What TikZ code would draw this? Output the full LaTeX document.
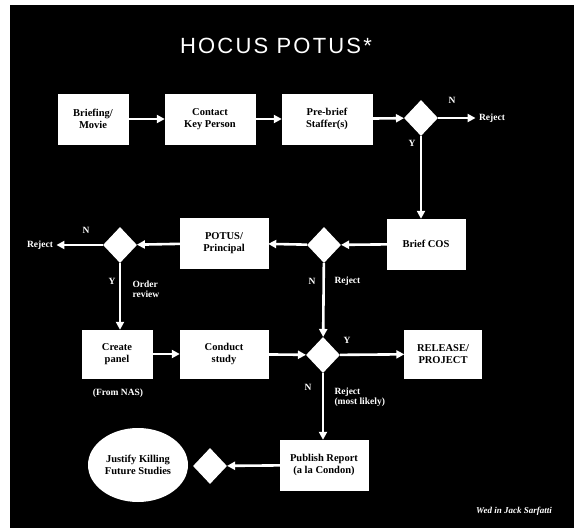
\documentclass[tikz,border=0pt]{standalone}
\usepackage{fontspec}
\setmainfont{Liberation Serif}
\newfontfamily\titlefont[LetterSpace=10]{Liberation Sans}
\usetikzlibrary{shapes.geometric,arrows.meta}

\begin{document}
\begin{tikzpicture}[x=1pt, y=-1pt, font=\bfseries\fontsize{10.5}{11.5}\selectfont,
	stepbox/.style={draw=white, fill=white, text=black, align=center, minimum height=50, inner sep=2pt},
	choice/.style={diamond, fill=white, minimum width=34, minimum height=36, inner sep=0pt},
	flow/.style={draw=white, line width=2.6pt, -{Triangle[length=8pt,width=8pt]}},
	note/.style={text=white, font=\bfseries\fontsize{9.5}{10.5}\selectfont, align=left}]
	\useasboundingbox (0,0) rectangle (574,528);
	\fill[white] (0,0) rectangle (574,528);
	\fill[black] (10,5) rectangle (574,528);

	\node[text=white, font=\titlefont\fontsize{22}{24}\selectfont] (title) at (276,46) {HOCUS POTUS*};

	% first row
	\node[stepbox, minimum width=70] (brief)    at (93,119)  {Briefing/\\Movie};
	\node[stepbox, minimum width=90] (contact)  at (210,119) {Contact\\Key Person};
	\node[stepbox, minimum width=90] (prebrief) at (327,119) {Pre-brief\\Staffer(s)};
	\node[choice] (d1) at (421,118) {};
	\node[note] (rej1) at (492,118) {Reject};

	% second row
	\node[stepbox, minimum width=78] (cos)   at (426,244) {Brief COS};
	\node[choice] (d2) at (324,245) {};
	\node[stepbox, minimum width=88] (potus) at (224,243) {POTUS/\\Principal};
	\node[choice] (d3) at (120,245) {};
	\node[note] (rej2) at (40,245) {Reject};

	% third row
	\node[stepbox, minimum width=70, minimum height=48] (panel)   at (117,354) {Create\\panel};
	\node[stepbox, minimum width=88, minimum height=48] (study)   at (224,354) {Conduct\\study};
	\node[choice] (d4) at (323,355) {};
	\node[stepbox, minimum width=77, minimum height=48] (release) at (443,354) {RELEASE/\\PROJECT};

	% last row
	\node[stepbox, minimum width=88] (publish) at (324,465) {Publish Report\\(a la Condon)};
	\node[choice] (d5) at (210,466) {};
	\node[ellipse, fill=white, text=black, align=center, minimum width=100, minimum height=74, inner sep=0pt] (justify) at (138,465) {Justify Killing\\Future Studies};

	\draw[flow] (brief) -- (contact);
	\draw[flow] (contact) -- (prebrief);
	\draw[flow] (prebrief) -- (d1);
	\draw[flow] (d1) -- (rej1);
	\draw[flow] (d1) -- (d1 |- cos.north);
	\draw[flow] (cos) -- (d2);
	\draw[flow] (d2) -- (potus);
	\draw[flow] (potus) -- (d3);
	\draw[flow] (d3) -- (rej2);
	\draw[flow] (d3) -- (d3 |- panel.north);
	\draw[flow] (d2) -- (d4);
	\draw[flow] (panel) -- (study);
	\draw[flow] (study) -- (d4);
	\draw[flow] (d4) -- (release);
	\draw[flow] (d4) -- (d4 |- publish.north);
	\draw[flow] (publish) -- (d5);

	\node[note] (n1) at (452,100) {N};
	\node[note] (y1) at (412,143) {Y};
	\node[note] (n2) at (86,230) {N};
	\node[note] (y2) at (112,281) {Y};
	\node[note, anchor=west] (order) at (129,289) {Order\\review};
	\node[note] (n3) at (312,281) {N};
	\node[note, anchor=west] (rej3) at (331,281) {Reject};
	\node[note] (y3) at (347,340) {Y};
	\node[note] (nas) at (118,393) {(From NAS)};
	\node[note] (n4) at (308,387) {N};
	\node[note, anchor=west] (rej4) at (331,397) {Reject\\(most likely)};
	\node[note, font=\bfseries\itshape\fontsize{9}{10}\selectfont] (sig) at (514,511) {Wed in Jack Sarfatti};
\end{tikzpicture}
\end{document}
